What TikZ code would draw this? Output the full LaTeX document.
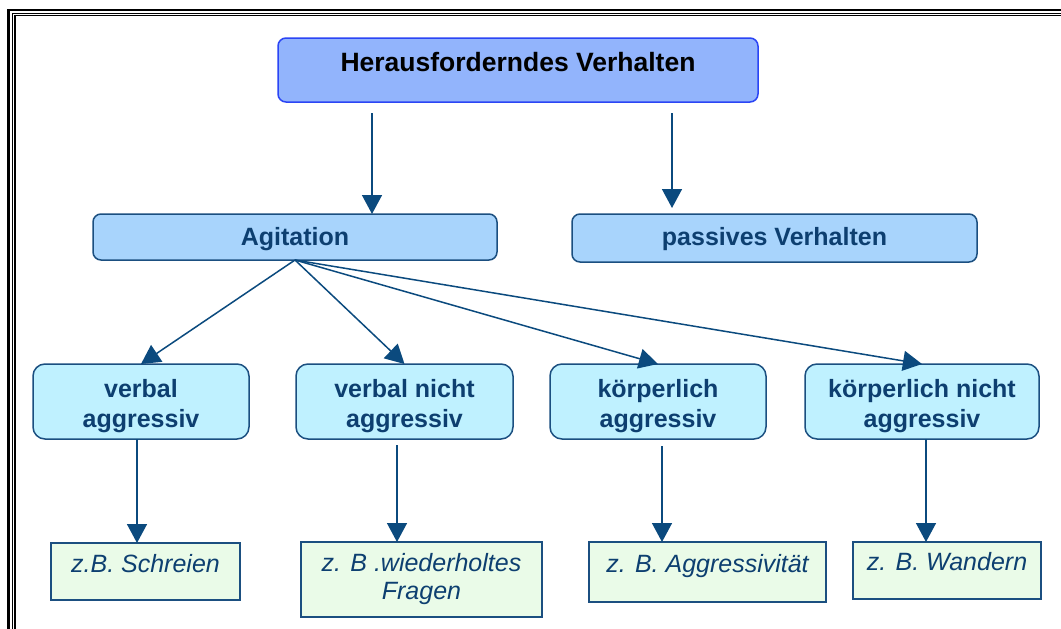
\documentclass[tikz,border=0pt]{standalone}
\usepackage{fontspec}
\setmainfont{Liberation Sans}
\usetikzlibrary{arrows.meta,calc}
\definecolor{topfill}{HTML}{92B4FC}
\definecolor{topdraw}{HTML}{2B45F5}
\definecolor{midfill}{HTML}{A8D4FC}
\definecolor{navy}{HTML}{1B4F80}
\definecolor{cyanfill}{HTML}{BFF1FF}
\definecolor{greenfill}{HTML}{EAFBE8}
\definecolor{txt}{HTML}{0D3F70}
\definecolor{arr}{HTML}{0B4A7E}
\begin{document}
\begin{tikzpicture}[x=1pt,y=-1pt,
  box/.style={anchor=north west, inner sep=0pt, outer sep=0pt, align=center},
  topbox/.style={box, rounded corners=8pt, fill=topfill, draw=topdraw, line width=1.5pt, font=\fontsize{26.5}{30}\selectfont\bfseries, text=black},
  midbox/.style={box, rounded corners=8pt, fill=midfill, draw=navy, line width=1.5pt, font=\fontsize{25}{30}\selectfont\bfseries, text=txt},
  catbox/.style={box, rounded corners=12pt, fill=cyanfill, draw=navy, line width=1.5pt, minimum height=75pt, font=\fontsize{25}{30}\selectfont\bfseries, text=txt},
  exbox/.style={box, fill=greenfill, draw=navy, line width=1.8pt, font=\fontsize{25}{28}\selectfont\itshape, text=txt},
  conn/.style={draw=arr, line width=1.5pt, -{Triangle[length=19pt,width=20pt]}}
]
\useasboundingbox (0,0) rectangle (1061,629);
\fill[white] (0,0) rectangle (1061,629);
\clip (0,0) rectangle (1061,629);
% frame
\draw[line width=2.5pt] (8.5,10) rectangle (1100,700);
\draw[line width=1pt] (12,13) rectangle (1100,700);
\draw[line width=1.4pt] (15,15.3) rectangle (1100,700);

% nodes
\node[topbox, minimum width=480pt, minimum height=64pt, text height=33pt, text depth=31pt] (top) at (278,38) {Herausforderndes Verhalten};
\node[midbox, minimum width=404pt, minimum height=46pt, text height=31pt, text depth=15pt] (ag) at (93,214) {Agitation};
\node[midbox, minimum width=405pt, minimum height=48pt, text height=31pt, text depth=17pt] (pv) at (572,214) {passives Verhalten};

\node[catbox, minimum width=216pt] (va) at (33,364) {\rule{0pt}{28pt}verbal\\aggressiv};
\node[catbox, minimum width=217pt] (vn) at (296,364) {\rule{0pt}{28pt}verbal nicht\\aggressiv};
\node[catbox, minimum width=216pt] (ka) at (550,364) {\rule{0pt}{28pt}körperlich\\aggressiv};
\node[catbox, minimum width=234pt] (kn) at (805,364) {\rule{0pt}{28pt}körperlich nicht\\aggressiv};

\node[exbox, minimum width=189pt, minimum height=57pt, text height=29pt, text depth=28pt] (s1) at (51,543) {z.B. Schreien};
\node[exbox, minimum width=241pt, minimum height=75pt] (s2) at (301,542) {z. B .wiederholtes\\Fragen};
\node[exbox, minimum width=237pt, minimum height=60pt, text height=30pt, text depth=30pt] (s3) at (589,542) {z. B. Aggressivität};
\node[exbox, minimum width=188pt, minimum height=57pt, text height=28pt, text depth=29pt] (s4) at (853,542) {z. B. Wandern};

% connectors
\coordinate (t1) at ($(top.south west)+(94,11)$);
\draw[conn] (t1) -- (t1 |- ag.north);
\coordinate (t2) at ($(top.south west)+(394,11)$);
\coordinate (t2e) at ($(t2 |- pv.north)+(0,-6)$);
\draw[conn] (t2) -- (t2e);

\draw[conn] (ag.south) -- (va.north);
\draw[conn] (ag.south) -- (vn.north);
\draw[conn] (ag.south) -- (ka.north);
\draw[conn] (ag.south) -- (kn.north);

\coordinate (d1) at ($(va.south)+(-4,0)$);
\draw[conn] (d1) -- (d1 |- s1.north);
\coordinate (d2) at ($(vn.south)+(-7.5,6)$);
\draw[conn] (d2) -- (d2 |- s2.north);
\coordinate (d3) at ($(ka.south)+(4,7)$);
\draw[conn] (d3) -- (d3 |- s3.north);
\coordinate (d4) at ($(kn.south)+(4,0)$);
\draw[conn] (d4) -- (d4 |- s4.north);
\end{tikzpicture}
\end{document}
